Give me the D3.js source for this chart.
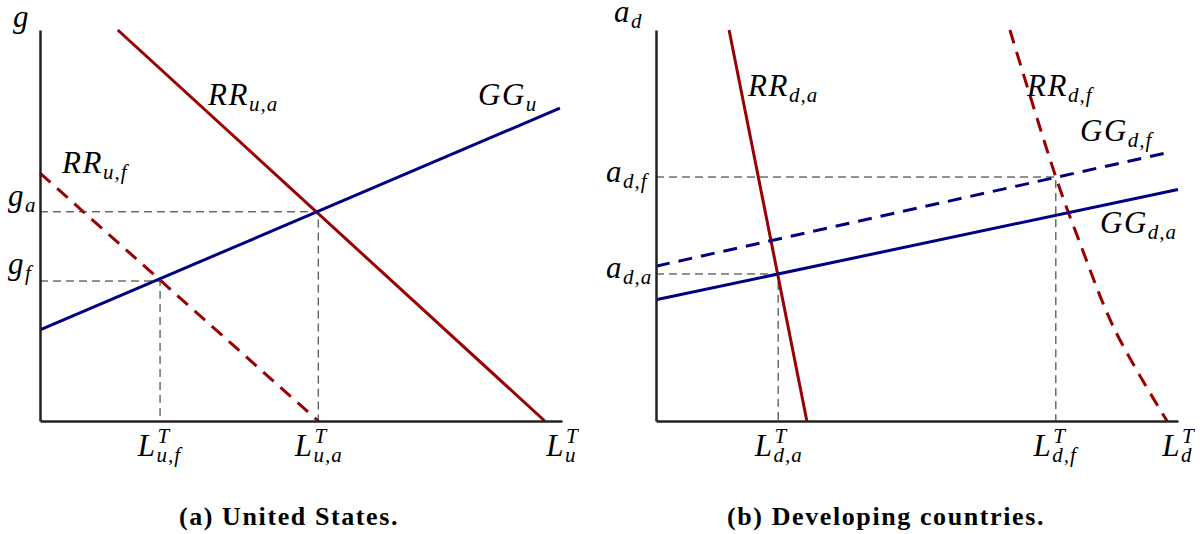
<!DOCTYPE html>
<html>
<head>
<meta charset="utf-8">
<script src="https://cdn.jsdelivr.net/npm/d3@7"></script>
<style>
body{margin:0;background:#fff}
.math{font-family:"Liberation Serif",serif;font-style:italic;fill:#000}
</style>
</head>
<body>
<script>
var w = 1203;
var h = 534;

// (a) United States -- model units, both axes 0..100
var usGG  = [[0,23.3],[99.6,80]];
var usRRa = [[14.9,100],[96.7,0]];
var usRRf = [[0,63.4],[53.3,0]];
var usEqL = [53.3, 23.0];        // L_{u,a}, L_{u,f}
var usEqG = [53.5, 35.8];        // g_a, g_f
var usXTicks = [23.0, 53.3, 100];
var usXLabels = [["L","T","u,f"],["L","T","u,a"],["L","T","u"]];

// (b) Developing countries
var dvGGa = [[0,31],[100,59.2]];
var dvGGf = [[0,39.6],[98.5,68.8]];
var dvRRa = [[14.0,100],[28.9,0]];
var dvRRf = [[67.8,100],[76.6,62.4],[81.0,46.3],[87.9,23.3],[97.9,0]];
var dvEqL = [23.4, 76.6];        // L_{d,a}, L_{d,f}
var dvEqA = [37.6, 62.4];        // a_{d,a}, a_{d,f}
var dvXTicks = [23.4, 76.6, 100];
var dvXLabels = [["L","T","d,a"],["L","T","d,f"],["L","T","d"]];

var captions = ["(a) United States.", "(b) Developing countries."];

var red = "#990000";
var blue = "#000080";

var svg = d3.select("body").append("svg")
	.attr("width", w)
	.attr("height", h);

// text with sub/superscript, LaTeX-ish
function mlab(g, x, y, base, sup, sub, anchor) {
	var fs = 31, sfs = 21;
	var t = g.append("text").attr("class","math")
		.attr("x", x).attr("y", y).style("font-size", fs+"px");
	t.append("tspan").style("letter-spacing","1.5px").text(base);
	var sw = 0;
	if (sup) {
		var s = t.append("tspan").attr("dx", 1).attr("dy", -13).style("font-size", sfs+"px").text(sup);
		sw = s.node().getComputedTextLength();
	}
	if (sub) {
		t.append("tspan")
			.attr("dx", sup ? -sw - 1 : 0)
			.attr("dy", sup ? 19 : 6)
			.style("font-size", sfs+"px")
			.style("letter-spacing","1px")
			.text(sub);
	}
	if (anchor && anchor != "start") {
		var bb = t.node().getBBox();
		var c = anchor == "middle" ? bb.x + bb.width/2 : bb.x + bb.width;
		t.attr("transform", "translate(" + (x - c) + ",0)");
	}
	return t;
}

function panel(x0, x1, lines, eqX, eqY, ticks, tickLabels) {
	var xScale = d3.scaleLinear().domain([0,100]).range([x0,x1]);
	var yScale = d3.scaleLinear().domain([0,100]).range([421,30]);
	var g = svg.append("g");

	var line = d3.line()
		.x(function(d){ return xScale(d[0]); })
		.y(function(d){ return yScale(d[1]); });

	// guide lines to the axes
	eqX.forEach(function(lx, i){
		var ly = eqY[i];
		g.append("path")
			.attr("d", line([[0,ly],[lx,ly],[lx,0]]))
			.attr("fill","none")
			.attr("stroke","#222")
			.attr("stroke-width",1)
			.attr("stroke-dasharray","8,5");
	});

	lines.forEach(function(l){
		g.append("path")
			.attr("d", line.curve(l.curve || d3.curveLinear)(l.data))
			.attr("fill","none")
			.attr("stroke", l.color)
			.attr("stroke-width", 3)
			.attr("stroke-dasharray", l.dash ? "14,9" : null);
	});

	g.append("g").attr("transform","translate(0,421)")
		.call(d3.axisBottom(xScale).tickValues([]).tickSizeOuter(0));
	g.append("g").attr("transform","translate("+x0+",0)")
		.call(d3.axisLeft(yScale).tickValues([]).tickSizeOuter(0));
	g.selectAll(".domain").attr("stroke","#222").attr("stroke-width",2.5);

	ticks.forEach(function(v, i){
		var lb = tickLabels[i];
		mlab(g, xScale(v), 456, lb[0], lb[1], lb[2], "middle");
	});
	return g;
}

var ga = panel(40, 562, [
	{data: usRRa, color: red},
	{data: usRRf, color: red, dash: true},
	{data: usGG, color: blue}
], usEqL, usEqG, usXTicks, usXLabels);

mlab(ga, 13, 27, "g");
mlab(ga, 8, 206, "g", null, "a");
mlab(ga, 8, 274, "g", null, "f");
mlab(ga, 208, 105, "RR", null, "u,a");
mlab(ga, 478, 105, "GG", null, "u");
mlab(ga, 62, 173, "RR", null, "u,f");

var gb = panel(656, 1178, [
	{data: dvRRa, color: red},
	{data: dvRRf, color: red, dash: true, curve: d3.curveCatmullRom},
	{data: dvGGa, color: blue},
	{data: dvGGf, color: blue, dash: true}
], dvEqL, dvEqA, dvXTicks, dvXLabels);

mlab(gb, 614, 22, "a", null, "d");
mlab(gb, 606, 182, "a", null, "d,f");
mlab(gb, 606, 278, "a", null, "d,a");
mlab(gb, 748, 96, "RR", null, "d,a");
mlab(gb, 1027, 96, "RR", null, "d,f");
mlab(gb, 1080, 141, "GG", null, "d,f");
mlab(gb, 1100, 233, "GG", null, "d,a");

svg.selectAll(".cap")
	.data(captions)
	.enter()
	.append("text")
	.attr("class","cap")
	.attr("x", function(d,i){ return i ? 886 : 289; })
	.attr("y", 525)
	.attr("text-anchor","middle")
	.style("font-family","'Liberation Serif', 'Times New Roman', serif")
	.style("font-weight","bold")
	.style("font-size","26px")
	.style("letter-spacing","1.6px")
	.text(function(d){ return d; });
</script>
</body>
</html>
